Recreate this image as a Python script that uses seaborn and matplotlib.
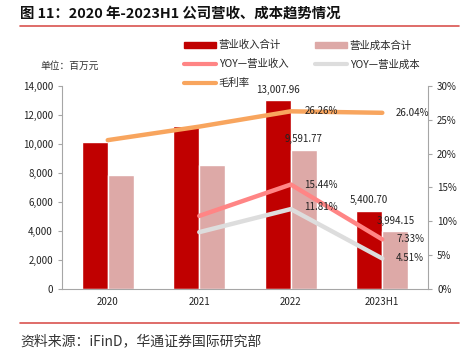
import matplotlib
matplotlib.use("Agg")
import matplotlib.pyplot as plt
from matplotlib.patches import Patch
from matplotlib.lines import Line2D
import seaborn as sns
import pandas as pd
import numpy as np

# --- data ---
years = ["2020", "2021", "2022", "2023H1"]
revenue = [10120, 11220, 13007.96, 5400.70]
cost = [7880, 8550, 9591.77, 3994.15]
yoy_rev = [np.nan, 10.8, 15.44, 7.33]
yoy_cost = [np.nan, 8.4, 11.81, 4.51]
gross_margin = [22.0, 24.0, 26.26, 26.04]

RED = "#C00000"
PINK = "#DDA9A7"
YOY_REV_C = "#FF8585"
YOY_COST_C = "#DDDDDD"
GM_C = "#F8A55E"
AXIS_C = "#A6A6A6"

sns.set_style("white")
plt.rcParams["font.family"] = ["Noto Sans CJK SC", "DejaVu Sans"]

fig = plt.figure(figsize=(4.73, 3.62), dpi=100)
ax = fig.add_axes([0.131, 0.2017, 0.774, 0.5607])

bars = pd.DataFrame({
    "year": years * 2,
    "value": revenue + cost,
    "kind": ["营业收入合计"] * 4 + ["营业成本合计"] * 4,
})
sns.barplot(data=bars, x="year", y="value", hue="kind", palette=[RED, PINK],
            width=0.57, saturation=1, legend=False, ax=ax)
ax.set_ylim(0, 14000)
ax.set_yticks(range(0, 14001, 2000))
ax.set_yticklabels([f"{v:,}" for v in range(0, 14001, 2000)])
ax.set_xlim(-0.5, 3.5)
ax.set_xlabel("")
ax.set_ylabel("")

# value labels on the last two years
for cont in ax.containers:
    for i, rect in enumerate(cont):
        if i >= 2:
            h = rect.get_height()
            ax.text(rect.get_x() + rect.get_width() / 2, h + 380, f"{h:,.2f}",
                    ha="center", va="bottom", fontsize=7, color="#222222")

ax2 = ax.twinx()
idx = np.arange(len(years))
lines = pd.DataFrame({"x": idx, "gm": gross_margin, "yr": yoy_rev, "yc": yoy_cost})
sub = lines.dropna()
sns.lineplot(data=lines, x="x", y="gm", color=GM_C, lw=3.2, ax=ax2,
             solid_capstyle="round")
sns.lineplot(data=sub, x="x", y="yr", color=YOY_REV_C, lw=3.2, ax=ax2,
             solid_capstyle="round")
sns.lineplot(data=sub, x="x", y="yc", color=YOY_COST_C, lw=3.2, ax=ax2,
             solid_capstyle="round")
ax2.set_ylim(0, 30)
ax2.set_yticks(range(0, 31, 5))
ax2.set_yticklabels([f"{v}%" for v in range(0, 31, 5)])
ax2.set_xlim(-0.5, 3.5)
ax2.set_xlabel("")
ax2.set_ylabel("")

for i in (2, 3):
    v = gross_margin[i]
    ax2.text(i + 0.15, v, f"{v:.2f}%", ha="left", va="center", fontsize=7, color="#222222")
for series, dy in ((yoy_rev, 0.0), (yoy_cost, 0.3)):
    for i in (2, 3):
        ax2.text(i + 0.15, series[i] + (dy if i == 2 else 0.0), f"{series[i]:.2f}%",
                 ha="left", va="center", fontsize=7, color="#222222")

for a in (ax, ax2):
    for s in a.spines.values():
        s.set_visible(False)
    a.tick_params(labelsize=7, colors="#222222", length=0)
ax.spines["left"].set_visible(True)
ax.spines["left"].set_color(AXIS_C)
ax.spines["bottom"].set_visible(True)
ax.spines["bottom"].set_color(AXIS_C)
ax2.spines["right"].set_visible(True)
ax2.spines["right"].set_color(AXIS_C)
ax.tick_params(axis="y", length=3, color=AXIS_C, direction="out")
ax2.tick_params(axis="y", length=3, color=AXIS_C, direction="out")
ax.set_xticks([-0.5, 0.5, 1.5, 2.5, 3.5], minor=True)
ax.tick_params(axis="x", which="minor", length=3, color=AXIS_C, direction="out")
ax.tick_params(axis="x", which="major", pad=6)

# legend
handles = [
    Patch(color=RED, label="营业收入合计"),
    Line2D([], [], color=YOY_REV_C, lw=3, solid_capstyle="round", label="YOY—营业收入"),
    Line2D([], [], color=GM_C, lw=3, solid_capstyle="round", label="毛利率"),
    Patch(color=PINK, label="营业成本合计"),
    Line2D([], [], color=YOY_COST_C, lw=3, solid_capstyle="round", label="YOY—营业成本"),
]
fig.legend(handles=handles, ncol=2, loc="upper left", bbox_to_anchor=(0.37, 0.915),
           frameon=False, fontsize=7.5, handlelength=3.0, handleheight=0.5,
           columnspacing=2.6, labelspacing=0.85, handletextpad=0.3)

fig.text(0.085, 0.818, "单位：百万元", fontsize=7, color="#333333", va="center")

# title, rules, source
fig.text(0.042, 0.962, "图 11：2020 年-2023H1 公司营收、成本趋势情况", fontsize=10.4,
         fontweight="bold", va="center", color="#111111")
fig.add_artist(Line2D([0.042, 0.97], [0.928, 0.928], color="#D9534F", lw=1.2))
fig.add_artist(Line2D([0.042, 0.97], [0.108, 0.108], color="#D9534F", lw=1.2))
fig.text(0.042, 0.058, "资料来源：iFinD，华通证券国际研究部", fontsize=10,
         va="center", color="#333333")

fig.savefig("out.png", dpi=100)
